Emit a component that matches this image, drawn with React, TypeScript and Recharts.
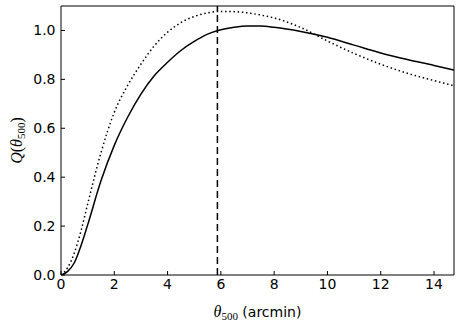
import React from 'react';
import { LineChart, Line, XAxis, YAxis, ReferenceLine, Label } from 'recharts';

// theta_500 in arcmin, and the two Q curves
const THETA = [0, 0.25, 0.5, 0.75, 1, 1.5, 2, 2.5, 3, 3.5, 4, 4.5, 5, 5.5, 6, 6.5, 7, 7.5, 8, 9, 10, 11, 12, 13, 14, 14.75];
const Q_SOLID = [0, 0.015, 0.05, 0.12, 0.205, 0.385, 0.53, 0.645, 0.74, 0.815, 0.87, 0.918, 0.955, 0.985, 1.003, 1.013, 1.018, 1.018, 1.013, 0.996, 0.972, 0.94, 0.908, 0.881, 0.857, 0.838];
const Q_DOTTED = [0, 0.03, 0.09, 0.18, 0.29, 0.5, 0.665, 0.775, 0.862, 0.937, 0.993, 1.032, 1.057, 1.072, 1.078, 1.077, 1.072, 1.063, 1.051, 1.012, 0.957, 0.906, 0.862, 0.825, 0.795, 0.774];

const X_TICKS = [0, 2, 4, 6, 8, 10, 12, 14];
const Y_TICKS = [0, 0.2, 0.4, 0.6, 0.8, 1.0];
const THETA_MARK = 5.87;

const data = THETA.map((t, i) => ({ theta: t, solid: Q_SOLID[i], dotted: Q_DOTTED[i] }));

const tickFont = { fill: '#000', fontSize: 14, fontFamily: 'DejaVu Sans' };
const mathFont = 'Liberation Serif';

const XTitle = (props: any) => {
  const vb = props.viewBox || {};
  const cx = vb.x + vb.width / 2;
  const y = vb.y + 42;
  return (
    <text x={cx} y={y} textAnchor="middle" fontSize={14} fontFamily="DejaVu Sans" fill="#000">
      <tspan fontFamily={mathFont} fontStyle="italic" fontSize={16}>θ</tspan>
      <tspan fontFamily={mathFont} fontSize={11} dy={3}>500</tspan>
      <tspan dy={-3}> (arcmin)</tspan>
    </text>
  );
};

const YTitle = (props: any) => {
  const vb = props.viewBox || {};
  const x = 22;
  const cy = vb.y + vb.height / 2;
  return (
    <text x={x} y={cy} transform={`rotate(-90, ${x}, ${cy})`} textAnchor="middle" fontSize={16} fontFamily={mathFont} fill="#000">
      <tspan fontStyle="italic">Q</tspan>
      <tspan>(</tspan>
      <tspan fontStyle="italic">θ</tspan>
      <tspan fontSize={11} dy={3}>500</tspan>
      <tspan dy={-3}>)</tspan>
    </text>
  );
};

export default function App() {
  return (
    <div style={{ position: 'absolute', left: 0, top: 0, background: '#fff' }}>
      <LineChart width={463} height={324} data={data} margin={{ top: 5, right: 8, left: 1, bottom: 0 }}>
        <XAxis
          dataKey="theta"
          type="number"
          domain={[0, 14.75]}
          ticks={X_TICKS}
          allowDataOverflow
          height={49}
          tickSize={-4}
          tickMargin={8}
          tick={tickFont}
          stroke="#000"
        >
          <Label content={<XTitle />} />
        </XAxis>
        <XAxis
          xAxisId="top"
          orientation="top"
          dataKey="theta"
          type="number"
          domain={[0, 14.75]}
          ticks={X_TICKS}
          allowDataOverflow
          height={1}
          tickSize={-4}
          tick={false}
          stroke="#000"
        />
        <YAxis
          type="number"
          domain={[0, 1.1]}
          ticks={Y_TICKS}
          allowDataOverflow
          width={60}
          tickSize={-4}
          tickMargin={9.5}
          tick={tickFont}
          tickFormatter={(v: number) => v.toFixed(1)}
          stroke="#000"
        >
          <Label content={<YTitle />} />
        </YAxis>
        <YAxis
          yAxisId="right"
          orientation="right"
          type="number"
          domain={[0, 1.1]}
          ticks={Y_TICKS}
          allowDataOverflow
          width={1}
          tickSize={-4}
          tick={false}
          stroke="#000"
        />
        <ReferenceLine x={THETA_MARK} stroke="#000" strokeWidth={1.5} strokeDasharray="7 4" />
        <Line
          type="monotone"
          dataKey="dotted"
          stroke="#000"
          strokeWidth={1.5}
          strokeDasharray="1.5 2.7"
          dot={false}
          isAnimationActive={false}
        />
        <Line
          type="monotone"
          dataKey="solid"
          stroke="#000"
          strokeWidth={1.5}
          dot={false}
          isAnimationActive={false}
        />
      </LineChart>
    </div>
  );
}
